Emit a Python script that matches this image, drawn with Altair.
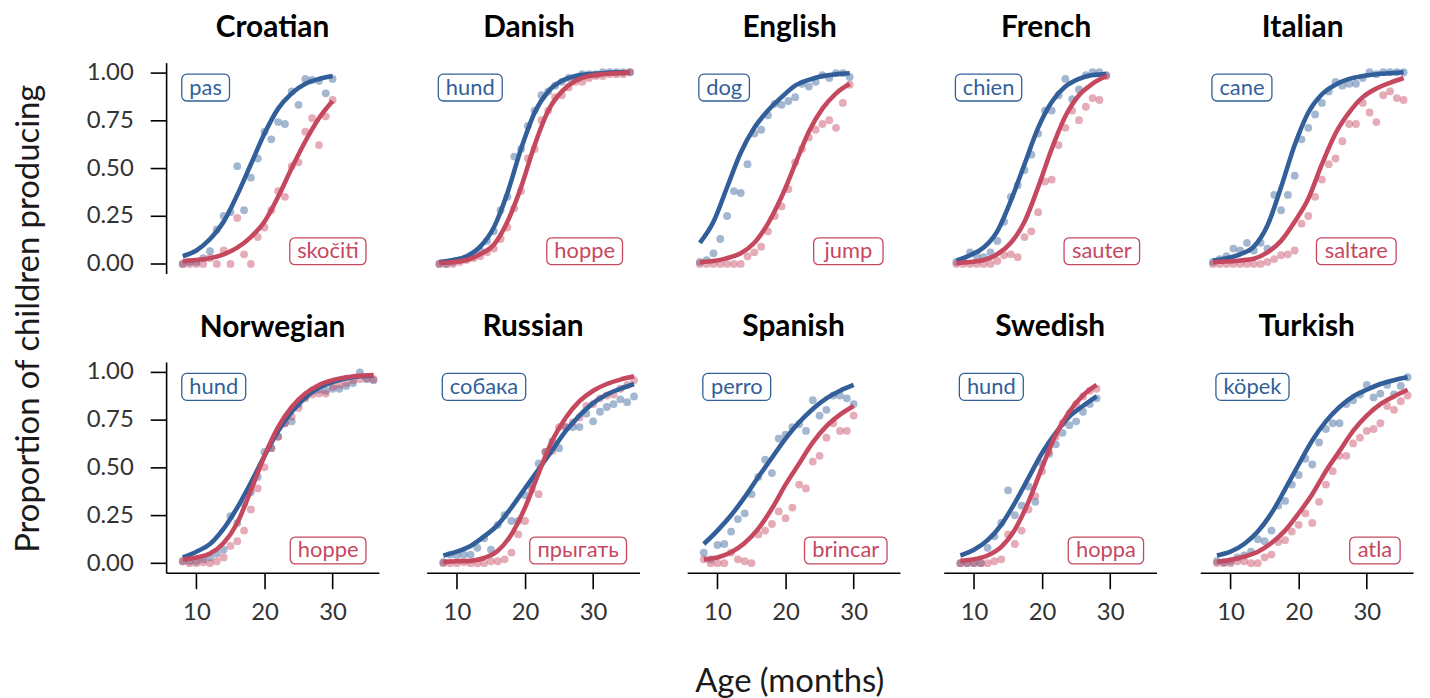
import altair as alt
import pandas as pd

# ---------------- data ----------------
languages = ["Croatian", "Danish", "English", "French", "Italian",
             "Norwegian", "Russian", "Spanish", "Swedish", "Turkish"]
dog_words = ["pas", "hund", "dog", "chien", "cane",
             "hund", "собака", "perro", "hund", "köpek"]
jump_words = ["skočiti", "hoppe", "jump", "sauter", "saltare",
              "hoppe", "прыгать", "brincar", "hoppa", "atla"]
first_age = 8
last_ages = [30, 36, 30, 30, 36, 36, 36, 30, 28, 36]
fit_step = 2

# observed proportions, one value per month from first_age to last age
croatian_dog = [0.0, 0.01, 0.01, 0.03, 0.066, 0.18, 0.25, 0.27, 0.51, 0.28, 0.45, 0.55,
                0.69, 0.65, 0.74, 0.73, 0.90, 0.83, 0.965, 0.96, 0.955, 0.89, 0.965]
croatian_jump = [0.0, 0.0, 0.0, 0.0, 0.03, 0.0, 0.07, 0.0, 0.24, 0.05, 0.0, 0.14,
                 0.19, 0.28, 0.38, 0.35, 0.51, 0.53, 0.69, 0.76, 0.62, 0.77, 0.855]
danish_dog = [0.0, 0.0, 0.01, 0.02, 0.03, 0.05, 0.07, 0.12, 0.17, 0.28, 0.35, 0.56, 0.60,
              0.72, 0.80, 0.88, 0.90, 0.93, 0.95, 0.97, 0.97, 0.99, 0.99, 0.99, 1.0, 1.0,
              1.0, 1.0, 1.0]
danish_jump = [0.0, 0.0, 0.0, 0.01, 0.02, 0.03, 0.04, 0.06, 0.08, 0.13, 0.19, 0.29, 0.38,
               0.55, 0.60, 0.75, 0.80, 0.87, 0.88, 0.92, 0.95, 0.95, 0.97, 0.98, 0.98,
               0.99, 0.99, 0.99, 1.0]
english_dog = [0.01, 0.02, 0.055, 0.13, 0.25, 0.38, 0.37, 0.52, 0.68, 0.70, 0.775, 0.835,
               0.83, 0.85, 0.87, 0.94, 0.925, 0.95, 0.985, 0.97, 0.995, 0.995, 0.975]
english_jump = [0.0, 0.0, 0.0, 0.0, 0.0, 0.0, 0.0, 0.04, 0.06, 0.09, 0.17, 0.25, 0.30,
                0.39, 0.53, 0.60, 0.66, 0.70, 0.73, 0.75, 0.71, 0.84, 0.935]
french_dog = [0.01, 0.02, 0.06, 0.04, 0.035, 0.06, 0.12, 0.22, 0.35, 0.41, 0.49, 0.57,
              0.68, 0.80, 0.80, 0.88, 0.965, 0.86, 0.91, 0.985, 1.0, 1.0, 0.985]
french_jump = [0.0, 0.0, 0.0, 0.0, 0.0, 0.0, 0.015, 0.045, 0.05, 0.035, 0.14, 0.17, 0.27,
               0.43, 0.44, 0.62, 0.71, 0.80, 0.75, 0.82, 0.865, 0.855, 0.98]
italian_dog = [0.01, 0.025, 0.04, 0.08, 0.07, 0.11, 0.07, 0.11, 0.08, 0.36, 0.28, 0.36,
               0.46, 0.65, 0.71, 0.78, 0.84, 0.90, 0.95, 0.93, 0.94, 0.94, 0.97, 1.0, 0.99,
               1.0, 1.0, 1.0, 1.0]
italian_jump = [0.0, 0.0, 0.0, 0.0, 0.0, 0.0, 0.0, 0.0, 0.01, 0.025, 0.045, 0.05, 0.07,
                0.21, 0.25, 0.35, 0.44, 0.52, 0.55, 0.64, 0.73, 0.73, 0.84, 0.79, 0.74,
                0.88, 0.90, 0.865, 0.855]
norwegian_dog = [0.01, 0.01, 0.01, 0.02, 0.03, 0.05, 0.07, 0.245, 0.21, 0.31, 0.37, 0.45,
                 0.58, 0.60, 0.66, 0.73, 0.74, 0.83, 0.87, 0.90, 0.905, 0.90, 0.91, 0.91,
                 0.925, 0.94, 0.995, 0.96, 0.955]
norwegian_jump = [0.01, 0.0, 0.0, 0.005, 0.0, 0.01, 0.03, 0.09, 0.115, 0.17, 0.28, 0.39,
                  0.50, 0.60, 0.66, 0.73, 0.765, 0.81, 0.86, 0.88, 0.885, 0.885, 0.92, 0.93,
                  0.94, 0.955, 0.96, 0.965, 0.96]
russian_dog = [0.005, 0.045, 0.04, 0.045, 0.045, 0.08, 0.13, 0.07, 0.20, 0.25, 0.22, 0.22,
               0.355, 0.41, 0.52, 0.58, 0.635, 0.60, 0.71, 0.71, 0.71, 0.78, 0.74, 0.79,
               0.815, 0.83, 0.855, 0.84, 0.87]
russian_jump = [0.0, 0.0, 0.0, 0.005, 0.0, 0.0, 0.0, 0.01, 0.01, 0.02, 0.055, 0.15, 0.22,
                0.385, 0.36, 0.58, 0.585, 0.71, 0.71, 0.735, 0.76, 0.82, 0.83, 0.86, 0.875,
                0.88, 0.91, 0.93, 0.955]
spanish_dog = [0.055, 0.02, 0.095, 0.10, 0.165, 0.23, 0.26, 0.36, 0.45, 0.54, 0.47, 0.65,
               0.67, 0.71, 0.725, 0.69, 0.85, 0.77, 0.80, 0.875, 0.875, 0.86, 0.83]
spanish_jump = [0.02, 0.0, 0.0, 0.0, 0.055, 0.02, 0.01, 0.0, 0.15, 0.17, 0.205, 0.27,
                0.235, 0.29, 0.41, 0.39, 0.53, 0.56, 0.655, 0.73, 0.69, 0.69, 0.77]
swedish_dog = [0.0, 0.0, 0.0, 0.0, 0.08, 0.14, 0.21, 0.38, 0.25, 0.30, 0.40, 0.32, 0.52,
               0.57, 0.62, 0.68, 0.72, 0.74, 0.79, 0.83, 0.86]
swedish_jump = [0.0, 0.0, 0.0, 0.0, 0.0, 0.01, 0.02, 0.15, 0.10, 0.17, 0.28, 0.35, 0.48,
                0.58, 0.66, 0.73, 0.78, 0.83, 0.87, 0.90, 0.91]
turkish_dog = [0.01, 0.005, 0.01, 0.03, 0.04, 0.06, 0.125, 0.115, 0.17, 0.30, 0.325, 0.41,
               0.46, 0.545, 0.515, 0.63, 0.70, 0.73, 0.73, 0.83, 0.85, 0.88, 0.93, 0.865,
               0.885, 0.93, 0.88, 0.925, 0.97]
turkish_jump = [0.0, 0.0, 0.0, 0.01, 0.01, 0.0, 0.0, 0.03, 0.045, 0.11, 0.12, 0.165, 0.20,
                0.26, 0.21, 0.32, 0.41, 0.48, 0.56, 0.56, 0.625, 0.655, 0.69, 0.70, 0.73,
                0.82, 0.80, 0.845, 0.875]

# fitted curves, one value every fit_step months from first_age to last age
croatian_dog_fit = [0.04, 0.07, 0.13, 0.22, 0.36, 0.52, 0.68, 0.81, 0.89, 0.94, 0.965, 0.98]
croatian_jump_fit = [0.014, 0.02, 0.03, 0.05, 0.085, 0.14, 0.22, 0.35, 0.50, 0.64, 0.76, 0.85]
danish_dog_fit = [0.01, 0.02, 0.04, 0.09, 0.19, 0.37, 0.60, 0.79, 0.90, 0.955, 0.98, 0.99,
                  0.995, 1.0, 1.0]
danish_jump_fit = [0.005, 0.01, 0.02, 0.05, 0.10, 0.22, 0.40, 0.62, 0.80, 0.90, 0.955, 0.98,
                   0.99, 0.995, 1.0]
english_dog_fit = [0.11, 0.22, 0.40, 0.58, 0.71, 0.80, 0.87, 0.93, 0.96, 0.98, 0.99, 0.995]
english_jump_fit = [0.01, 0.015, 0.03, 0.055, 0.11, 0.21, 0.35, 0.52, 0.69, 0.81, 0.89, 0.94]
french_dog_fit = [0.017, 0.045, 0.085, 0.17, 0.33, 0.52, 0.71, 0.845, 0.925, 0.965, 0.985, 0.99]
french_jump_fit = [0.005, 0.01, 0.02, 0.05, 0.11, 0.22, 0.40, 0.60, 0.77, 0.88, 0.94, 0.98]
italian_dog_fit = [0.017, 0.03, 0.05, 0.09, 0.20, 0.40, 0.62, 0.79, 0.885, 0.935, 0.965, 0.98,
                   0.99, 0.995, 1.0]
italian_jump_fit = [0.01, 0.012, 0.018, 0.027, 0.06, 0.12, 0.22, 0.34, 0.52, 0.68, 0.79, 0.87,
                    0.915, 0.945, 0.97]
norwegian_dog_fit = [0.03, 0.06, 0.10, 0.18, 0.29, 0.42, 0.56, 0.69, 0.79, 0.865, 0.915, 0.945,
                     0.965, 0.975, 0.98]
norwegian_jump_fit = [0.02, 0.03, 0.05, 0.105, 0.21, 0.38, 0.56, 0.71, 0.815, 0.885, 0.93,
                      0.955, 0.97, 0.978, 0.982]
russian_dog_fit = [0.04, 0.06, 0.09, 0.14, 0.20, 0.29, 0.39, 0.49, 0.59, 0.69, 0.77, 0.835,
                   0.88, 0.91, 0.935]
russian_jump_fit = [0.007, 0.01, 0.012, 0.027, 0.065, 0.15, 0.29, 0.47, 0.64, 0.76, 0.845, 0.90,
                    0.935, 0.958, 0.975]
spanish_dog_fit = [0.10, 0.17, 0.25, 0.345, 0.45, 0.55, 0.65, 0.735, 0.805, 0.86, 0.90, 0.93]
spanish_jump_fit = [0.02, 0.03, 0.057, 0.105, 0.18, 0.285, 0.41, 0.52, 0.63, 0.715, 0.775, 0.82]
swedish_dog_fit = [0.04, 0.07, 0.12, 0.20, 0.315, 0.445, 0.575, 0.68, 0.765, 0.82, 0.87]
swedish_jump_fit = [0.012, 0.02, 0.04, 0.085, 0.175, 0.32, 0.50, 0.67, 0.79, 0.875, 0.93]
turkish_dog_fit = [0.04, 0.06, 0.10, 0.165, 0.26, 0.385, 0.515, 0.64, 0.74, 0.815, 0.87, 0.905,
                   0.935, 0.955, 0.97]
turkish_jump_fit = [0.008, 0.018, 0.034, 0.06, 0.105, 0.17, 0.26, 0.36, 0.48, 0.585, 0.69, 0.77,
                    0.83, 0.87, 0.905]

dog_props = [croatian_dog, danish_dog, english_dog, french_dog, italian_dog,
             norwegian_dog, russian_dog, spanish_dog, swedish_dog, turkish_dog]
jump_props = [croatian_jump, danish_jump, english_jump, french_jump, italian_jump,
              norwegian_jump, russian_jump, spanish_jump, swedish_jump, turkish_jump]
dog_fits = [croatian_dog_fit, danish_dog_fit, english_dog_fit, french_dog_fit, italian_dog_fit,
            norwegian_dog_fit, russian_dog_fit, spanish_dog_fit, swedish_dog_fit, turkish_dog_fit]
jump_fits = [croatian_jump_fit, danish_jump_fit, english_jump_fit, french_jump_fit,
             italian_jump_fit, norwegian_jump_fit, russian_jump_fit, spanish_jump_fit,
             swedish_jump_fit, turkish_jump_fit]

# ---------------- style ----------------
BLUE = "#325f99"
RED = "#c5485f"
FONT = "Lato"
XMIN, XMAX = 5.55, 36.8
YMIN, YMAX = -0.05, 1.05
W, H = 214, 212
PX_X = W / (XMAX - XMIN)
PX_Y = H / (YMAX - YMIN)
LABEL_SIZE = 22
BOX_PAD = 15
BOX_H = 27
DOG_BOX_LEFT, DOG_BOX_Y = 7.85, 0.92
JUMP_BOX_RIGHT, JUMP_BOX_Y = 34.9, 0.066
CHAR_EM = {'a': 0.51, 'b': 0.56, 'c': 0.46, 'd': 0.56, 'e': 0.53, 'g': 0.50, 'h': 0.56,
           'i': 0.24, 'k': 0.50, 'l': 0.24, 'm': 0.84, 'n': 0.56, 'o': 0.57, 'p': 0.56,
           'r': 0.38, 's': 0.43, 't': 0.36, 'u': 0.56, 'ö': 0.57, 'č': 0.46,
           'с': 0.47, 'о': 0.57, 'б': 0.57, 'а': 0.51, 'к': 0.50, 'п': 0.56, 'р': 0.56,
           'ы': 0.72, 'г': 0.42, 'т': 0.46, 'ь': 0.51}


def text_px(s):
    return sum(CHAR_EM.get(c, 0.53) for c in s) * LABEL_SIZE


color_scale = alt.Scale(domain=["dog", "jump"], range=[BLUE, RED])

axis_common = dict(title=None, grid=False, tickSize=16, tickWidth=1.6, domainWidth=1.6,
                   domainColor="black", tickColor="black", labelColor="#333333",
                   labelFontSize=24, labelFont=FONT)
x_axis = alt.Axis(values=[10, 20, 30], labelPadding=12, **axis_common)
y_axis = alt.Axis(values=[0, 0.25, 0.5, 0.75, 1.0], format=".2f", labelPadding=17,
                  **axis_common)


def panel(i, show_x, show_y):
    ages = list(range(first_age, last_ages[i] + 1))
    fit_ages = list(range(first_age, last_ages[i] + 1, fit_step))
    pts = pd.DataFrame({
        "age": ages + ages,
        "prop": dog_props[i] + jump_props[i],
        "word": ["dog"] * len(ages) + ["jump"] * len(ages),
    })
    fits = pd.DataFrame({
        "age": fit_ages + fit_ages,
        "prop": dog_fits[i] + jump_fits[i],
        "word": ["dog"] * len(fit_ages) + ["jump"] * len(fit_ages),
    })
    wd = (text_px(dog_words[i]) + BOX_PAD) / PX_X
    wj = (text_px(jump_words[i]) + BOX_PAD) / PX_X
    hh = BOX_H / 2 / PX_Y
    boxes = pd.DataFrame({
        "word": ["dog", "jump"],
        "label": [dog_words[i], jump_words[i]],
        "x0": [DOG_BOX_LEFT, JUMP_BOX_RIGHT - wj],
        "x1": [DOG_BOX_LEFT + wd, JUMP_BOX_RIGHT],
        "y0": [DOG_BOX_Y - hh, JUMP_BOX_Y - hh],
        "y1": [DOG_BOX_Y + hh, JUMP_BOX_Y + hh],
    })
    boxes["xc"] = (boxes["x0"] + boxes["x1"]) / 2
    boxes["yc"] = (boxes["y0"] + boxes["y1"]) / 2

    xs = alt.Scale(domain=[XMIN, XMAX], nice=False, zero=False)
    ys = alt.Scale(domain=[YMIN, YMAX], nice=False, zero=False)
    xax = x_axis if show_x else None
    yax = y_axis if show_y else None
    col = alt.Color("word:N", scale=color_scale, legend=None)

    points = alt.Chart(pts).mark_circle(size=62, opacity=0.45).encode(
        x=alt.X("age:Q", scale=xs, axis=xax),
        y=alt.Y("prop:Q", scale=ys, axis=yax),
        color=col,
    )
    lines = alt.Chart(fits).mark_line(strokeWidth=4.6, interpolate="monotone").encode(
        x=alt.X("age:Q", scale=xs, axis=xax),
        y=alt.Y("prop:Q", scale=ys, axis=yax),
        color=col,
    )
    rects = alt.Chart(boxes).mark_rect(fill="white", strokeWidth=1.3, cornerRadius=5).encode(
        x=alt.X("x0:Q", scale=xs, axis=xax),
        x2="x1:Q",
        y=alt.Y("y0:Q", scale=ys, axis=yax),
        y2="y1:Q",
        stroke=alt.Stroke("word:N", scale=color_scale, legend=None),
    )
    texts = alt.Chart(boxes).mark_text(fontSize=LABEL_SIZE, font=FONT, baseline="middle",
                                       align="center").encode(
        x=alt.X("xc:Q", scale=xs, axis=xax),
        y=alt.Y("yc:Q", scale=ys, axis=yax),
        text="label:N",
        color=col,
    )
    # the left-column panels carry a y-axis whose top label sits above the plot,
    # so their title offset is reduced to keep all panel titles on one line
    title_offset = -7 if show_y else -4
    return alt.layer(points, lines, rects, texts).properties(
        width=W, height=H,
        title=alt.TitleParams(languages[i], fontSize=30, fontWeight="bold", font=FONT,
                              anchor="middle", frame="group", offset=title_offset,
                              baseline="alphabetic", color="black"),
    )


row1 = alt.hconcat(*[panel(i, False, i == 0) for i in range(5)], spacing=258 - W)
row2 = alt.hconcat(*[panel(i, True, i == 5) for i in range(5, 10)], spacing=258 - W)

grid = alt.vconcat(row1, row2, spacing=36).properties(
    title=alt.TitleParams("Proportion of children producing", orient="left", anchor="middle",
                          fontSize=33, fontWeight="normal", font=FONT, offset=40,
                          color="#1a1a1a"))

chart = alt.vconcat(grid).properties(
    title=alt.TitleParams("Age (months)", orient="bottom", anchor="middle", fontSize=33,
                          fontWeight="normal", font=FONT, offset=42, dx=75, color="#1a1a1a"),
    padding={"left": 5, "top": 3, "right": 5, "bottom": 0},
).configure(font=FONT).configure_view(stroke=None)

chart.save("out.html", embed_options={"renderer": "svg", "actions": False})
